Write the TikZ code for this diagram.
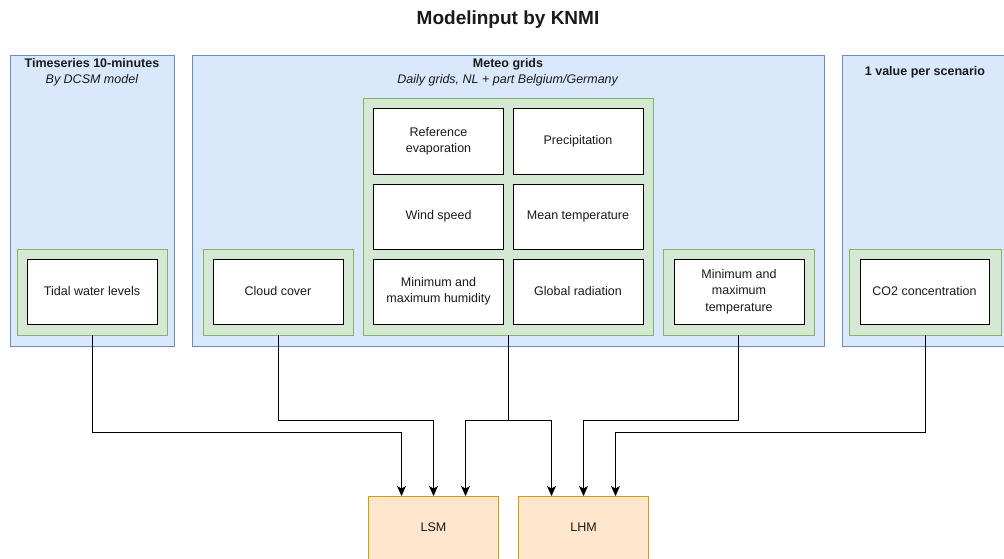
\documentclass[tikz,border=0pt]{standalone}
\usepackage{fontspec}
\setmainfont{Liberation Sans}
\usetikzlibrary{arrows.meta}
\definecolor{bfill}{HTML}{DAE8FC}
\definecolor{bline}{HTML}{6C8EBF}
\definecolor{gfill}{HTML}{D5E8D4}
\definecolor{gline}{HTML}{82B366}
\definecolor{ofill}{HTML}{FFE6CC}
\definecolor{oline}{HTML}{D79B00}
\definecolor{txt}{HTML}{1A1A1A}
\begin{document}
\begin{tikzpicture}[x=1pt,y=-1pt,
  every node/.style={inner sep=0pt, outer sep=0pt, text=txt},
  bluebox/.style={draw=bline, fill=bfill, line width=1pt, minimum height=290pt},
  greenbox/.style={draw=gline, fill=gfill, line width=1pt},
  whitebox/.style={draw=black, fill=white, line width=1pt, minimum width=130pt, minimum height=65pt, align=center, font=\fontsize{12.5}{16.5}\selectfont},
  modelbox/.style={draw=oline, fill=ofill, line width=1pt, minimum width=130pt, minimum height=64pt, font=\fontsize{12.5}{16.5}\selectfont},
  hdr/.style={align=center, font=\fontsize{12.5}{16}\selectfont},
  conn/.style={draw=black, line width=1pt, -{Stealth[length=10pt,width=9pt,inset=2.5pt]}},
  seg/.style={draw=black, line width=1pt}
]
\clip (0,0) rectangle (1004,559);
\useasboundingbox (0,0) rectangle (1004,559);

% title
\node[font=\fontsize{19}{22}\selectfont\bfseries] (title) at (508,20) {Modelinput by KNMI};

% blue containers
\node[bluebox, minimum width=164pt] (tsB) at (92,201) {};
\node[bluebox, minimum width=632pt] (meteoB) at (508,201) {};
\node[bluebox, minimum width=166pt] (scenB) at (925,201) {};

% headers
\node[hdr] (tsH) at (92,72) {\textbf{Timeseries 10-minutes}\\\textit{By DCSM model}};
\node[hdr] (meteoH) at (508,72) {\textbf{Meteo grids}\\\textit{Daily grids, NL + part Belgium/Germany}};
\node[hdr] (scenH) at (925,72) {\textbf{1 value per scenario}};

% green containers
\node[greenbox, minimum width=150pt, minimum height=86pt] (tidalG) at (92,292) {};
\node[greenbox, minimum width=150pt, minimum height=86pt] (cloudG) at (278,292) {};
\node[greenbox, minimum width=290pt, minimum height=236pt] (gridG) at (508,217) {};
\node[greenbox, minimum width=151pt, minimum height=86pt] (tempG) at (738.5,292) {};
\node[greenbox, minimum width=152pt, minimum height=86pt] (co2G) at (925,292) {};

% white boxes
\node[whitebox] (tidal) at (92,291.5) {Tidal water levels};
\node[whitebox] (cloud) at (278,291.5) {Cloud cover};
\node[whitebox] (refev) at (438.5,141.5) {Reference\\evaporation};
\node[whitebox] (precip) at (578,141.5) {Precipitation};
\node[whitebox] (wind) at (438.5,216.5) {Wind speed};
\node[whitebox] (meant) at (578,216.5) {Mean temperature};
\node[whitebox] (hum) at (438.5,291.5) {Minimum and\\maximum humidity};
\node[whitebox] (rad) at (578,291.5) {Global radiation};
\node[whitebox] (minmax) at (739,291.5) {Minimum and\\maximum\\temperature};
\node[whitebox, minimum width=129pt] (co2) at (924.5,291.5) {CO2 concentration};

% models
\node[modelbox] (LSM) at (433.5,528) {\raisebox{1pt}{LSM}};
\node[modelbox] (LHM) at (583.5,528) {\raisebox{1pt}{LHM}};

% connectors
\draw[conn] (tidalG.south) -- (tidalG.south |- 0,432) -| ([xshift=-32pt]LSM.north);
\draw[conn] (cloudG.south) -- (cloudG.south |- 0,420) -| (LSM.north);
\draw[conn] (gridG.south) -- (gridG.south |- 0,420) -| ([xshift=32pt]LSM.north);
\draw[conn] (gridG.south |- 0,420) -| ([xshift=-32pt]LHM.north);
\draw[conn] (tempG.south) -- (tempG.south |- 0,420) -| (LHM.north);
\draw[conn] (co2G.south) -- (co2G.south |- 0,432) -| ([xshift=32pt]LHM.north);
\end{tikzpicture}
\end{document}
